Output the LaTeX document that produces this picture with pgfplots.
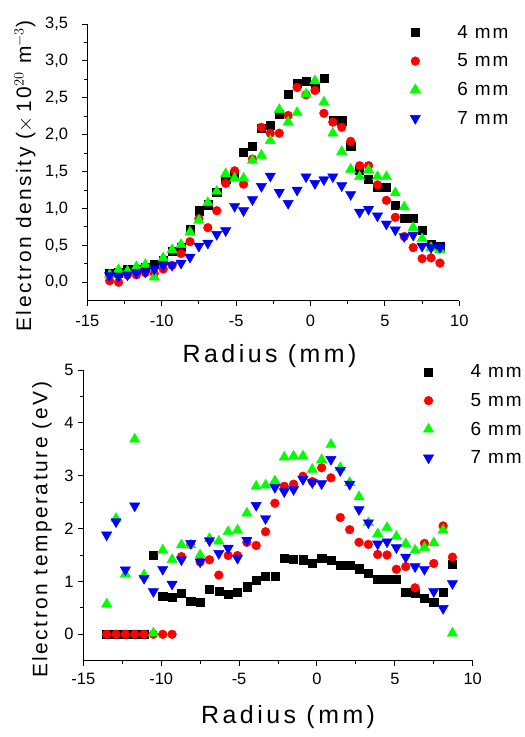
\documentclass[border=0pt]{standalone}
\usepackage{fontspec}
\setmainfont{Liberation Sans}
\newfontfamily\spacedA[LetterSpace=12]{Liberation Sans}
\newfontfamily\spacedB[LetterSpace=14]{Liberation Sans}
\newfontfamily\spacedC[LetterSpace=10]{Liberation Sans}
\usepackage{pgfplots}
\pgfplotsset{compat=1.18}

\pgfplotsset{
  common/.style={
    scale only axis,
    axis x line=bottom, axis y line=left,
    axis line style={-, line width=1.1pt},
    tick align=outside,
    major tick length=5bp, minor tick length=3bp,
    every tick/.style={line width=1pt, black},
    minor tick num=1,
    xmin=-15, xmax=10, xtick={-15,-10,...,10},
    /pgf/number format/assume math mode=true,
    tick label style={font=\fontsize{16.5}{19}\selectfont},
    ylabel style={font=\spacedA\fontsize{21}{24}\selectfont, anchor=center},
    xlabel style={font=\spacedB\fontsize{25}{28}\selectfont, anchor=center},
    legend style={draw=none, fill=none, inner sep=0pt,
      font=\spacedC\fontsize{19}{22}\selectfont,
      nodes={inner xsep=6bp, inner ysep=0pt},
      row sep=14bp, legend cell align=left},
    legend image code/.code={\path[draw=none, fill=none] (-0.2cm,0) rectangle (1.27cm,0);
      \draw[#1] plot coordinates {(0cm,0cm)};},
  },
  s4/.style={only marks, mark=square*, mark size=4.1pt, black},
  s5/.style={only marks, mark=*, mark size=4.4pt, red},
  s6/.style={only marks, mark=triangle*, mark size=6pt, color={rgb,255:red,0;green,255;blue,0}},
  s7/.style={only marks, mark=triangle*, mark size=6pt, mark options={rotate=180}, blue},
}

\begin{document}
\begin{tikzpicture}
\path[use as bounding box] (0,0) rectangle (525bp,-737bp);

% --- density ---
\begin{axis}[common,
  at={(87.3bp,-300.7bp)}, anchor=south west,
  width=372bp, height=276.7bp,
  ymin=-0.25, ymax=3.5, ytick={0,0.5,...,3.5},
  yticklabel style={anchor=east, inner sep=0pt, xshift=-14bp,
    /pgf/number format/fixed, /pgf/number format/fixed zerofill,
    /pgf/number format/precision=1, /pgf/number format/use comma},
  xticklabel style={anchor=north, inner sep=0pt, yshift=-9bp},
  xlabel={Radius (mm)},
  xlabel style={at={(axis description cs:0.49,0)}, yshift=-55bp},
  ylabel={Electron density (${\times}$\,10$^{20}$ m$^{-3}$)},
  ylabel style={at={(axis description cs:-0.1675,0.45)}},
  legend style={at={(axis description cs:0.866,0.996)}, anchor=north west},
]
\addplot[s4] coordinates {(-13.5,0.12)(-12.9,0.13)(-12.3,0.17)(-11.7,0.17)(-11.1,0.20)(-10.5,0.24)(-9.9,0.30)(-9.3,0.42)(-8.7,0.48)(-8.1,0.72)(-7.5,0.97)(-6.9,1.05)(-6.3,1.22)(-5.7,1.40)(-5.1,1.47)(-4.5,1.76)(-3.9,1.84)(-3.3,2.09)(-2.7,2.13)(-2.1,2.28)(-1.5,2.55)(-0.9,2.70)(-0.3,2.72)(0.3,2.64)(0.9,2.76)(1.5,2.20)(2.1,2.19)(2.7,1.84)(3.3,1.52)(3.9,1.40)(4.5,1.29)(5.1,1.29)(5.7,1.04)(6.3,0.87)(6.9,0.87)(7.5,0.70)(8.1,0.51)(8.7,0.49)};
\addlegendentry{4 mm}
\addplot[s5] coordinates {(-13.5,0.02)(-12.9,0.00)(-12.3,0.10)(-11.7,0.10)(-11.1,0.13)(-10.5,0.12)(-9.9,0.18)(-9.3,0.23)(-8.7,0.39)(-8.1,0.55)(-7.5,0.86)(-6.9,0.74)(-6.3,0.97)(-5.7,1.34)(-5.1,1.51)(-4.5,1.33)(-3.9,1.67)(-3.3,2.10)(-2.7,2.02)(-2.1,2.02)(-1.5,2.26)(-0.9,2.64)(-0.3,2.54)(0.3,2.60)(0.9,2.29)(1.5,2.17)(2.1,2.10)(2.7,1.91)(3.3,1.58)(3.9,1.58)(4.5,1.32)(5.1,1.11)(5.7,0.88)(6.3,0.62)(6.9,0.47)(7.5,0.32)(8.1,0.33)(8.7,0.26)};
\addlegendentry{5 mm}
\addplot[s6] coordinates {(-13.5,0.10)(-12.9,0.17)(-12.3,0.15)(-11.7,0.21)(-11.1,0.24)(-10.5,0.07)(-9.9,0.33)(-9.3,0.44)(-8.7,0.51)(-8.1,0.68)(-7.5,0.84)(-6.9,1.08)(-6.3,1.23)(-5.7,1.47)(-5.1,1.41)(-4.5,1.41)(-3.9,1.65)(-3.3,1.72)(-2.7,1.92)(-2.1,2.34)(-1.5,2.17)(-0.9,2.30)(-0.3,2.55)(0.3,2.73)(0.9,2.44)(1.5,2.02)(2.1,1.77)(2.7,1.53)(3.3,1.43)(3.9,1.52)(4.5,1.43)(5.1,1.43)(5.7,1.21)(6.3,1.02)(6.9,0.74)(7.5,0.59)(8.1,0.47)(8.7,0.44)};
\addlegendentry{6 mm}
\addplot[s7] coordinates {(-13.5,0.09)(-12.9,0.08)(-12.3,0.10)(-11.7,0.13)(-11.1,0.14)(-10.5,0.18)(-9.9,0.23)(-9.3,0.23)(-8.7,0.26)(-8.1,0.34)(-7.5,0.49)(-6.9,0.53)(-6.3,0.65)(-5.7,0.70)(-5.1,1.03)(-4.5,0.97)(-3.9,1.12)(-3.3,1.30)(-2.7,1.44)(-2.1,1.22)(-1.5,1.07)(-0.9,1.25)(-0.3,1.43)(0.3,1.34)(0.9,1.39)(1.5,1.43)(2.1,1.31)(2.7,1.19)(3.3,0.95)(3.9,0.99)(4.5,0.90)(5.1,0.79)(5.7,0.71)(6.3,0.62)(6.9,0.64)(7.5,0.49)(8.1,0.47)(8.7,0.47)};
\addlegendentry{7 mm}
\end{axis}

% --- temperature ---
\begin{axis}[common,
  at={(83.3bp,-660.7bp)}, anchor=south west,
  width=389.4bp, height=290.7bp,
  ymin=-0.5, ymax=5, ytick={0,1,...,5},
  yticklabel style={anchor=east, inner sep=0pt, xshift=-4.5bp},
  xticklabel style={anchor=north, inner sep=0pt, yshift=-7bp},
  xlabel={Radius (mm)},
  xlabel style={at={(axis description cs:0.526,0)}, yshift=-56bp},
  ylabel={Electron temperature (eV)},
  ylabel style={at={(axis description cs:-0.106,0.45)}},
  legend style={at={(axis description cs:0.8715,1.0185)}, anchor=north west},
]
\addplot[s4] coordinates {(-13.5,0)(-12.9,0)(-12.3,0)(-11.7,0)(-11.1,0)(-10.5,1.49)(-9.9,0.72)(-9.3,0.70)(-8.7,0.78)(-8.1,0.62)(-7.5,0.60)(-6.9,0.86)(-6.3,0.81)(-5.7,0.76)(-5.1,0.79)(-4.5,0.90)(-3.9,1.03)(-3.3,1.10)(-2.7,1.10)(-2.1,1.44)(-1.5,1.42)(-0.9,1.41)(-0.3,1.34)(0.3,1.44)(0.9,1.40)(1.5,1.31)(2.1,1.31)(2.7,1.24)(3.3,1.15)(3.9,1.05)(4.5,1.04)(5.1,1.04)(5.7,0.79)(6.3,0.77)(6.9,0.69)(7.5,0.60)(8.1,0.79)(8.7,1.33)};
\addlegendentry{4 mm}
\addplot[s5] coordinates {(-13.5,0)(-12.9,0)(-12.3,0)(-11.7,0)(-11.1,0)(-10.5,0)(-9.9,0)(-9.3,0)(-8.7,1.47)(-8.1,1.70)(-7.5,1.37)(-6.9,1.41)(-6.3,1.12)(-5.7,1.49)(-5.1,1.49)(-4.5,1.74)(-3.9,1.68)(-3.3,1.94)(-2.7,2.48)(-2.1,2.80)(-1.5,2.84)(-0.9,2.99)(-0.3,2.89)(0.3,3.15)(0.9,2.96)(1.5,2.21)(2.1,1.98)(2.7,1.74)(3.3,1.70)(3.9,1.51)(4.5,1.50)(5.1,1.23)(5.7,1.28)(6.3,0.88)(6.9,1.72)(7.5,1.34)(8.1,2.05)(8.7,1.46)};
\addlegendentry{5 mm}
\addplot[s6] coordinates {(-13.5,0.57)(-12.9,2.19)(-12.3,1.14)(-11.7,3.69)(-11.1,1.12)(-10.5,0.02)(-9.9,1.59)(-9.3,1.41)(-8.7,1.69)(-8.1,1.69)(-7.5,1.50)(-6.9,1.81)(-6.3,1.76)(-5.7,1.94)(-5.1,1.97)(-4.5,2.29)(-3.9,2.80)(-3.3,2.82)(-2.7,2.90)(-2.1,3.35)(-1.5,3.37)(-0.9,3.37)(-0.3,3.12)(0.3,3.30)(0.9,3.59)(1.5,3.15)(2.1,2.87)(2.7,2.60)(3.3,2.11)(3.9,1.90)(4.5,2.02)(5.1,1.85)(5.7,1.71)(6.3,1.59)(6.9,1.64)(7.5,1.73)(8.1,1.97)(8.7,0.02)};
\addlegendentry{6 mm}
\addplot[s7] coordinates {(-13.5,1.88)(-12.9,2.13)(-12.3,1.22)(-11.7,2.43)(-11.1,1.06)(-10.5,0.81)(-9.9,1.23)(-9.3,0.95)(-8.7,1.41)(-8.1,1.72)(-7.5,1.37)(-6.9,1.77)(-6.3,1.53)(-5.7,1.63)(-5.1,1.44)(-4.5,1.78)(-3.9,2.44)(-3.3,2.19)(-2.7,2.78)(-2.1,2.70)(-1.5,2.74)(-0.9,2.93)(-0.3,2.87)(0.3,2.85)(0.9,3.31)(1.5,3.10)(2.1,2.84)(2.7,2.36)(3.3,2.11)(3.9,1.71)(4.5,1.75)(5.1,1.64)(5.7,1.46)(6.3,1.28)(6.9,1.23)(7.5,0.81)(8.1,0.49)(8.7,0.96)};
\addlegendentry{7 mm}
\end{axis}
\end{tikzpicture}
\end{document}
